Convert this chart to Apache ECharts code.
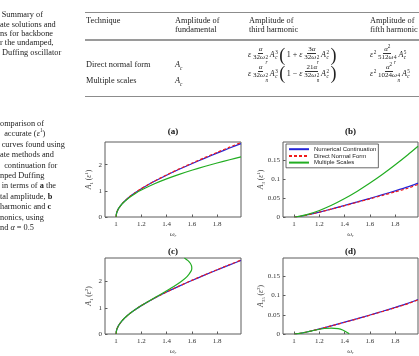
<!DOCTYPE html>
<html>
<head>
<meta charset="utf-8">
<script src="https://cdn.jsdelivr.net/npm/echarts@6/dist/echarts.min.js"></script>
<style>
  html, body { margin: 0; padding: 0; background: #fff; }
  #page { position: relative; width: 419px; height: 356px; overflow: hidden;
          font-family: 'Liberation Serif', 'Times New Roman', serif; color: #222; }
  #chart { position: absolute; left: 0; top: 0; width: 419px; height: 356px; }
  .cap { position: absolute; left: 0; white-space: nowrap; font-size: 8.3px; }
  .t { position: absolute; white-space: nowrap; font-size: 8.3px; line-height: 9px; }
  .rule { position: absolute; left: 85px; right: 0; height: 0; border-top: 1px solid #8c8c8c; }
  .fm { position: absolute; display: flex; align-items: center; white-space: nowrap;
        height: 20px; font-size: 8px; line-height: 8px; }
  .fr { display: inline-flex; flex-direction: column; align-items: center; font-size: 7px;
        line-height: 7px; margin: 0 1.8px; }
  .fr > span:first-child { border-bottom: 0.6px solid #333; padding: 0 1px; }
  .ss { display: inline-flex; flex-direction: column; font-size: 5.2px; line-height: 4.8px; margin-left: 0.5px; }
  .bp { font-size: 18px; line-height: 17px; font-weight: 300; margin: 0 1.5px; }
  sup, sub { font-size: 5.2px; line-height: 0; }
</style>
</head>
<body>
<div id="page">
  <div id="chart"></div>

  <!-- table caption, cut at the left -->
  <div class="cap" style="top:10.4px; line-height:9.3px;">
    <div>&thinsp;Summary of</div>
    <div>ate solutions and</div>
    <div>ns for backbone</div>
    <div>r the undamped,</div>
    <div>&nbsp;Duffing oscillator</div>
  </div>

  <!-- table -->
  <div class="rule" style="top:12px;"></div>
  <div class="t" style="left:86px; top:15.5px;">Technique</div>
  <div class="t" style="left:175px; top:15.5px;">Amplitude of<br>fundamental</div>
  <div class="t" style="left:249px; top:15.5px;">Amplitude of<br>third harmonic</div>
  <div class="t" style="left:370px; top:15.5px;">Amplitude of<br>fifth harmonic</div>
  <div class="rule" style="top:38.5px; border-top:2px solid #9a9a9a;"></div>

  <div class="t" style="left:86px; top:59.5px;">Direct normal form</div>
  <div class="t" style="left:175px; top:59.5px;"><i>A<sub>c</sub></i></div>
  <div class="t" style="left:86px; top:75.5px;">Multiple scales</div>
  <div class="t" style="left:175px; top:75.5px;"><i>A<sub>c</sub></i></div>

  <div class="fm" style="left:248px; top:45px;">
    <i>ε</i>
    <span class="fr"><span><i>α</i></span><span>32<i>ω</i><span class="ss"><span>2</span><span><i>r</i></span></span></span></span>
    <i>A</i><span class="ss"><span>3</span><span><i>c</i></span></span>
    <span class="bp">(</span>1 + <i>&nbsp;ε</i>
    <span class="fr"><span>3<i>α</i></span><span>32<i>ω</i><span class="ss"><span>2</span><span><i>r</i></span></span></span></span>
    <i>A</i><span class="ss"><span>2</span><span><i>c</i></span></span>
    <span class="bp">)</span>
  </div>
  <div class="fm" style="left:248px; top:63.5px;">
    <i>ε</i>
    <span class="fr"><span><i>α</i></span><span>32<i>ω</i><span class="ss"><span>2</span><span><i>n</i></span></span></span></span>
    <i>A</i><span class="ss"><span>3</span><span><i>c</i></span></span>
    <span class="bp">(</span>1 − <i>&nbsp;ε</i>
    <span class="fr"><span>21<i>α</i></span><span>32<i>ω</i><span class="ss"><span>2</span><span><i>n</i></span></span></span></span>
    <i>A</i><span class="ss"><span>2</span><span><i>c</i></span></span>
    <span class="bp">)</span>
  </div>
  <div class="fm" style="left:370px; top:45px;">
    <i>ε</i><span class="ss"><span>2</span><span>&nbsp;</span></span>
    <span class="fr"><span><i>α</i><sup>2</sup></span><span>512<i>ω</i><span class="ss"><span>4</span><span><i>r</i></span></span></span></span>
    <i>A</i><span class="ss"><span>5</span><span><i>c</i></span></span>
  </div>
  <div class="fm" style="left:370px; top:63.5px;">
    <i>ε</i><span class="ss"><span>2</span><span>&nbsp;</span></span>
    <span class="fr"><span><i>α</i><sup>2</sup></span><span>1024<i>ω</i><span class="ss"><span>4</span><span><i>n</i></span></span></span></span>
    <i>A</i><span class="ss"><span>5</span><span><i>c</i></span></span>
  </div>
  <div class="rule" style="top:96px;"></div>

  <!-- figure caption, cut at the left -->
  <div class="cap" style="top:119px; line-height:10.4px;">
    <div>omparison of</div>
    <div>&nbsp;&nbsp;accurate (<i>ε</i><sup>1</sup>)</div>
    <div>&thinsp;curves found using</div>
    <div>ate methods and</div>
    <div>&nbsp;&nbsp;continuation for</div>
    <div>nped Duffing</div>
    <div>&thinsp;in terms of <b>a</b> the</div>
    <div>tal amplitude, <b>b</b></div>
    <div>harmonic and <b>c</b></div>
    <div>nonics, using</div>
    <div>nd <i>α</i> = 0.5</div>
  </div>
</div>

<script>
// backbone curves
// (a) total amplitude A1, first order
var wA = [1, 1.002, 1.005, 1.01, 1.02, 1.05, 1.1, 1.15, 1.2, 1.3, 1.4, 1.5, 1.6, 1.7, 1.8, 1.9, 1.99]
var a1Numerical = [0, 0.103, 0.163, 0.232, 0.328, 0.523, 0.748, 0.927, 1.083, 1.356, 1.600, 1.826, 2.040, 2.245, 2.444, 2.638, 2.810]
var a1Normal = [0, 0.103, 0.163, 0.232, 0.328, 0.523, 0.749, 0.929, 1.086, 1.362, 1.610, 1.840, 2.058, 2.268, 2.472, 2.672, 2.850]
var a1Scales = [0, 0.103, 0.163, 0.231, 0.327, 0.516, 0.730, 0.894, 1.033, 1.265, 1.461, 1.633, 1.789, 1.932, 2.066, 2.191, 2.298]

// (b) third harmonic A3, first order
var wB = [1, 1.02, 1.05, 1.1, 1.2, 1.3, 1.4, 1.5, 1.6, 1.7, 1.8, 1.9, 1.98]
var b3Numerical = [0, 0.0006, 0.0019, 0.0052, 0.0130, 0.0215, 0.0305, 0.0398, 0.0492, 0.0590, 0.0690, 0.0795, 0.0895]
var b3Normal = [0, 0.0005, 0.0019, 0.0051, 0.0128, 0.0212, 0.0300, 0.0390, 0.0480, 0.0572, 0.0665, 0.0760, 0.0860]
var b3Scales = [0, 0.0005, 0.0022, 0.0061, 0.0172, 0.0316, 0.0487, 0.0680, 0.0895, 0.1127, 0.1378, 0.1643, 0.1867]

// (c) total amplitude A1, second order (multiple scales bends back)
var c1Numerical = a1Numerical
var c1Normal = [0, 0.103, 0.163, 0.232, 0.328, 0.523, 0.748, 0.928, 1.084, 1.358, 1.603, 1.830, 2.046, 2.252, 2.452, 2.647, 2.822]
var cScalesW = [1, 1.0019, 1.0075, 1.0296, 1.0656, 1.114, 1.173, 1.240, 1.311, 1.384, 1.454, 1.516, 1.564, 1.594, 1.600, 1.598, 1.588, 1.570, 1.541]
var cScalesA = [0, 0.1, 0.2, 0.4, 0.6, 0.8, 1.0, 1.2, 1.4, 1.6, 1.8, 2.0, 2.2, 2.4, 2.5, 2.6, 2.7, 2.8, 2.9]

// (d) third + fifth harmonics, second order
var d35Numerical = [0, 0.0006, 0.0019, 0.0053, 0.0132, 0.0218, 0.0308, 0.0400, 0.0495, 0.0592, 0.0692, 0.0797, 0.0898]
var d35Normal = [0, 0.0006, 0.0019, 0.0052, 0.0131, 0.0216, 0.0305, 0.0396, 0.0490, 0.0586, 0.0685, 0.0790, 0.0890]
var dScalesW = [1, 1.0075, 1.0296, 1.0656, 1.114, 1.173, 1.240, 1.293, 1.348, 1.384, 1.4195, 1.4265, 1.4355]
var dScalesV = [0, 0.0001, 0.0009, 0.0030, 0.0063, 0.0105, 0.0143, 0.0155, 0.0138, 0.0103, 0.0040, 0.0024, 0]

var xTicks = [1, 1.2, 1.4, 1.6, 1.8]
var yTicksAmp = [0, 1, 2]
var yTicksHarm = [0, 0.05, 0.1, 0.15]
var names = ['Numerical Continuation', 'Direct Normal Form', 'Multiple Scales']

var serif = "'Liberation Serif', 'Times New Roman', serif"
var grids = [
  { left: 105, top: 142, width: 136, height: 75 },
  { left: 283, top: 142, width: 135, height: 75 },
  { left: 105, top: 258, width: 136, height: 76 },
  { left: 283, top: 258, width: 135, height: 76 }
]
var yMax = [2.87, 0.198, 2.9, 0.198]
var titleY = [132, 132, 252, 252]
var yNameX = [89, 261.5, 89, 261.5]
var ySub = ['1', '3', '1', '35']
var yOrder = ['1', '1', '2', '2']

var colors = { blue: '#2424d8', red: '#f01c1c', green: '#22ad22' }

function pairs(xs, ys) {
  return xs.map(function(x, k) { return [x, ys[k]] })
}

function curve(name, gi, data, color, dashed) {
  return {
    type: 'line',
    name: name,
    xAxisIndex: gi,
    yAxisIndex: gi,
    data: data,
    symbol: 'none',
    showSymbol: false,
    smooth: 0.2,
    lineStyle: { color: color, width: 1.2, type: dashed ? [3, 2] : 'solid' },
    itemStyle: { color: color }
  }
}

var series = [
  curve(names[0], 0, pairs(wA, a1Numerical), colors.blue),
  curve(names[1], 0, pairs(wA, a1Normal), colors.red, true),
  curve(names[2], 0, pairs(wA, a1Scales), colors.green),
  curve(names[0], 1, pairs(wB, b3Numerical), colors.blue),
  curve(names[1], 1, pairs(wB, b3Normal), colors.red, true),
  curve(names[2], 1, pairs(wB, b3Scales), colors.green),
  curve(names[0], 2, pairs(wA, c1Numerical), colors.blue),
  curve(names[1], 2, pairs(wA, c1Normal), colors.red, true),
  curve(names[2], 2, pairs(cScalesW, cScalesA), colors.green),
  curve(names[0], 3, pairs(wB, d35Numerical), colors.blue),
  curve(names[1], 3, pairs(wB, d35Normal), colors.red, true),
  curve(names[2], 3, pairs(dScalesW, dScalesV), colors.green)
]

var graphics = []
grids.forEach(function(g, i) {
  var cx = g.left + g.width / 2
  graphics.push({
    type: 'text', x: cx, y: titleY[i],
    style: { text: '(' + 'abcd'[i] + ')', font: 'bold 9px ' + serif, fill: '#111',
             textAlign: 'center', textVerticalAlign: 'middle' }
  })
  graphics.push({
    type: 'text', x: cx, y: g.top + g.height + 17.5,
    style: { text: '{i|ω}{s|r}', textAlign: 'center', textVerticalAlign: 'middle',
             rich: { i: { fontStyle: 'italic', fontSize: 7, fontFamily: serif, fill: '#444', lineHeight: 8 },
                     s: { fontStyle: 'italic', fontSize: 4.5, fontFamily: serif, fill: '#444', verticalAlign: 'bottom' } } }
  })
  graphics.push({
    type: 'text', x: yNameX[i], y: g.top + g.height / 2, rotation: Math.PI / 2,
    style: { text: '{i|A}{s|' + ySub[i] + '}{n| (}{i|ε}{p|' + yOrder[i] + '}{n|)}',
             textAlign: 'center', textVerticalAlign: 'middle',
             rich: { i: { fontStyle: 'italic', fontSize: 7.5, fontFamily: serif, fill: '#444', lineHeight: 10 },
                     n: { fontSize: 7.5, fontFamily: serif, fill: '#444', lineHeight: 10 },
                     s: { fontSize: 5, fontFamily: serif, fill: '#444', verticalAlign: 'bottom' },
                     p: { fontSize: 5, fontFamily: serif, fill: '#444', verticalAlign: 'top' } } }
  })
})

var chart = echarts.init(document.getElementById('chart'), null, { renderer: 'canvas' })
chart.setOption({
  animation: false,
  grid: grids.map(function(g) {
    return Object.assign({ show: true, borderColor: '#5c5c5c', borderWidth: 1, backgroundColor: 'transparent' }, g)
  }),
  xAxis: grids.map(function(g, i) {
    var wide = i % 2 === 1
    return {
      type: 'value', gridIndex: i, min: 0.912, max: wide ? 1.98 : 1.99,
      splitLine: { show: false },
      axisLine: { show: false },
      axisTick: { inside: true, length: 2.5, customValues: xTicks, lineStyle: { color: '#5c5c5c' } },
      axisLabel: { customValues: xTicks, fontSize: 7, fontFamily: serif, color: '#333', margin: 3.5 }
    }
  }),
  yAxis: grids.map(function(g, i) {
    var ticks = i % 2 === 1 ? yTicksHarm : yTicksAmp
    return {
      type: 'value', gridIndex: i, min: 0, max: yMax[i],
      splitLine: { show: false },
      axisLine: { show: false },
      axisTick: { inside: true, length: 2.5, customValues: ticks, lineStyle: { color: '#5c5c5c' } },
      axisLabel: { customValues: ticks, fontSize: 7, fontFamily: serif, color: '#333', margin: 3 }
    }
  }),
  legend: {
    data: names,
    orient: 'vertical',
    left: 286, top: 144,
    itemWidth: 20, itemHeight: 8, itemGap: 0.3,
    padding: [2, 2, 2, 2],
    borderColor: '#444', borderWidth: 0.8,
    backgroundColor: '#fff',
    itemStyle: { opacity: 0 },
    textStyle: { fontSize: 6, fontFamily: "'Liberation Sans', Arial, sans-serif", color: '#222' }
  },
  graphic: graphics,
  series: series
})
</script>
</body>
</html>
